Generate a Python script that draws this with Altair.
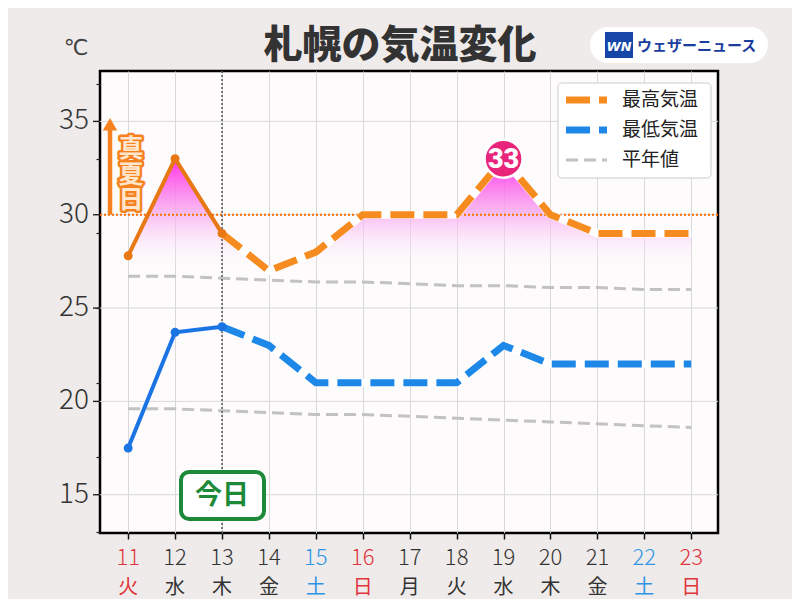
import altair as alt
import pandas as pd

# ---- data ----
days = [11, 12, 13, 14, 15, 16, 17, 18, 19, 20, 21, 22, 23]
weekdays = ["火", "水", "木", "金", "土", "日", "月", "火", "水", "木", "金", "土", "日"]
holidays = [11]
max_temp = [27.8, 33, 29, 27, 28, 30, 30, 30, 33, 30, 29, 29, 29]
min_temp = [17.5, 23.7, 24, 23, 21, 21, 21, 21, 23, 22, 22, 22, 22]
normal_max = [26.7, 26.7, 26.6, 26.5, 26.4, 26.4, 26.3, 26.2, 26.2, 26.1, 26.1, 26.0, 26.0]
normal_min = [19.6, 19.6, 19.5, 19.4, 19.3, 19.3, 19.2, 19.1, 19.0, 18.9, 18.8, 18.7, 18.6]
y_ticks = list(range(13, 38))
y_labels = [15, 20, 25, 30, 35]
today = 13
peak_day = 19
peak_value = 33
manatsubi = 30

W, H = 618, 462
FONT = "Noto Sans CJK JP"
ORANGE_OBS = "#e87814"
ORANGE_FC = "#f68b1f"
BLUE_OBS = "#1b74e4"
BLUE_FC = "#1e88e8"
GRAY = "#c2c2c2"

df = pd.DataFrame({
    "day": days, "wd": weekdays, "max": max_temp, "min": min_temp,
    "nmax": normal_max, "nmin": normal_min,
})
df["obs"] = df["day"] <= today
df["fc"] = df["day"] >= today


def label_color(d, w):
    if d in holidays or w == "日":
        return "#e0343a"
    if w == "土":
        return "#2e95e6"
    return "#333333"


df["lc"] = [label_color(d, w) for d, w in zip(days, weekdays)]
df["base"] = 27.0

xs = alt.Scale(domain=[10.4, 23.57], nice=False, zero=False)
ys = alt.Scale(domain=[12.95, 37.7], nice=False, zero=False)

X = alt.X("day:Q", scale=xs, title=None,
          axis=alt.Axis(values=days, labels=False, domain=False, tickSize=6,
                        tickColor="#111", tickWidth=1.5, gridColor="#d9d9d9", gridWidth=1))

base = alt.Chart(df)

# minor ticks axis (no labels, no grid)
yaxis = alt.Axis(
    values=y_ticks, labels=False, grid=False,
    domain=False, tickColor="#222", tickWidth=1.2, tickSize=4,
)

gradient = alt.Gradient(
    gradient="linear",
    stops=[
        alt.GradientStop(color="rgba(255,40,230,0.95)", offset=0),
        alt.GradientStop(color="rgba(248,170,240,0.75)", offset=0.5),
        alt.GradientStop(color="rgba(252,230,250,0.25)", offset=0.85),
        alt.GradientStop(color="rgba(255,255,255,0)", offset=1),
    ],
    x1=0, x2=0, y1=0, y2=1,
)

area = base.mark_area(fill=gradient, line=False).encode(
    x=X,
    y=alt.Y("max:Q", scale=ys, title=None, axis=yaxis),
    y2="base:Q",
)

# major ticks / labels / grid drawn from the y scale
ylab_df = pd.DataFrame({"v": y_labels})
y_grid = alt.Chart(ylab_df).mark_rule(color="#d9d9d9", strokeWidth=1).encode(
    y=alt.Y("v:Q", scale=ys))
y_major = alt.Chart(ylab_df).mark_rule(color="#222", strokeWidth=1.4).encode(
    y=alt.Y("v:Q", scale=ys), x=alt.value(-7), x2=alt.value(0))
y_text = alt.Chart(ylab_df).mark_text(font=FONT, fontSize=28, fontWeight=300, color="#333",
                                      align="right", baseline="middle").encode(
    y=alt.Y("v:Q", scale=ys), x=alt.value(-11), text="v:N")

nmax_line = base.mark_line(color=GRAY, strokeWidth=3, strokeDash=[12, 6]).encode(
    x=alt.X("day:Q", scale=xs), y=alt.Y("nmax:Q", scale=ys))
nmin_line = base.mark_line(color=GRAY, strokeWidth=3, strokeDash=[12, 6]).encode(
    x=alt.X("day:Q", scale=xs), y=alt.Y("nmin:Q", scale=ys))

hot_rule = alt.Chart(pd.DataFrame({"v": [manatsubi]})).mark_rule(
    color="#ff6a00", strokeWidth=2, strokeDash=[2, 2]).encode(y=alt.Y("v:Q", scale=ys))
today_rule = alt.Chart(pd.DataFrame({"d": [today]})).mark_rule(
    color="#555", strokeWidth=1.5, strokeDash=[2, 2]).encode(x=alt.X("d:Q", scale=xs))

fc = base.transform_filter("datum.fc")
obs = base.transform_filter("datum.obs")

max_under = fc.mark_line(color="white", strokeWidth=8).encode(
    x=alt.X("day:Q", scale=xs), y=alt.Y("max:Q", scale=ys))
min_under = fc.mark_line(color="white", strokeWidth=8).encode(
    x=alt.X("day:Q", scale=xs), y=alt.Y("min:Q", scale=ys))
max_fc = fc.mark_line(color=ORANGE_FC, strokeWidth=7, strokeDash=[24, 9]).encode(
    x=alt.X("day:Q", scale=xs), y=alt.Y("max:Q", scale=ys))
min_fc = fc.mark_line(color=BLUE_FC, strokeWidth=7, strokeDash=[24, 9]).encode(
    x=alt.X("day:Q", scale=xs), y=alt.Y("min:Q", scale=ys))
max_obs = obs.mark_line(color=ORANGE_OBS, strokeWidth=4, point=alt.OverlayMarkDef(
    filled=True, size=80, color=ORANGE_OBS)).encode(
    x=alt.X("day:Q", scale=xs), y=alt.Y("max:Q", scale=ys))
min_obs = obs.mark_line(color=BLUE_OBS, strokeWidth=4, point=alt.OverlayMarkDef(
    filled=True, size=80, color=BLUE_OBS)).encode(
    x=alt.X("day:Q", scale=xs), y=alt.Y("min:Q", scale=ys))

peak_df = pd.DataFrame({"d": [peak_day], "v": [peak_value], "t": [str(peak_value)]})
badge = alt.Chart(peak_df).mark_circle(size=1450, color="#e8257a", opacity=1,
                                         stroke="white", strokeWidth=2.5).encode(
    x=alt.X("d:Q", scale=xs), y=alt.Y("v:Q", scale=ys))
badge_txt = alt.Chart(peak_df).mark_text(font="Roboto", fontSize=27, fontWeight=900,
                                           color="white", baseline="middle", dy=1).encode(
    x=alt.X("d:Q", scale=xs), y=alt.Y("v:Q", scale=ys), text="t:N")

# x labels (two rows)
xlab_num = base.mark_text(font=FONT, fontSize=22, fontWeight=300, baseline="middle").encode(
    x=alt.X("day:Q", scale=xs), y=alt.value(H + 25), text="day:N",
    color=alt.Color("lc:N", scale=None))
xlab_wd = base.mark_text(font=FONT, fontSize=20, baseline="middle").encode(
    x=alt.X("day:Q", scale=xs), y=alt.value(H + 55), text="wd:N",
    color=alt.Color("lc:N", scale=None))

one = pd.DataFrame({"a": [0]})

# 真夏日 annotation
arrow_shaft = alt.Chart(pd.DataFrame({"a": [manatsubi], "b": [34.6]})).mark_rule(
    color="#f5821f", strokeWidth=4.5).encode(
    x=alt.value(10), y=alt.Y("a:Q", scale=ys), y2="b:Q")
arrow_head = alt.Chart(pd.DataFrame({"a": [34.85]})).mark_point(
    shape="triangle-up", filled=True, size=210, color="#f5821f", opacity=1).encode(
    x=alt.value(10), y=alt.Y("a:Q", scale=ys))
mn_stroke = alt.Chart(one).mark_text(
    text=["真", "夏", "日"], lineHeight=25.5, font=FONT, fontSize=25, fontWeight="bold",
    stroke="#f5821f", strokeWidth=5, strokeJoin="round", fill="#f5821f", baseline="top").encode(
    x=alt.value(31), y=alt.value(66))
mn_fill = alt.Chart(one).mark_text(
    text=["真", "夏", "日"], lineHeight=25.5, font=FONT, fontSize=25, fontWeight="bold",
    fill="#ffe6cc", baseline="top").encode(x=alt.value(31), y=alt.value(66))

# 今日 box
kyo_box = alt.Chart(one).mark_rect(fill="white", stroke="#1d8a3a", strokeWidth=4,
                                    cornerRadius=8).encode(
    x=alt.value(81), x2=alt.value(164), y=alt.value(401), y2=alt.value(448))
kyo_txt = alt.Chart(one).mark_text(text="今日", font=FONT, fontSize=27, fontWeight="bold",
                                    color="#1d8a3a", baseline="middle").encode(
    x=alt.value(122), y=alt.value(425))

# legend
leg_box = alt.Chart(one).mark_rect(fill="white", stroke="#cccccc", strokeWidth=1,
                                    cornerRadius=4).encode(
    x=alt.value(458), x2=alt.value(611), y=alt.value(12), y2=alt.value(107))
legend_items = []
for yy, col, sw, dash, label in [
    (29, ORANGE_FC, 7, [24, 9], "最高気温"),
    (59, BLUE_FC, 7, [24, 9], "最低気温"),
    (89, GRAY, 3, [12, 6], "平年値"),
]:
    legend_items.append(alt.Chart(one).mark_rule(color=col, strokeWidth=sw, strokeDash=dash).encode(
        x=alt.value(466), x2=alt.value(507), y=alt.value(yy)))
    legend_items.append(alt.Chart(one).mark_text(text=label, font=FONT, fontSize=19,
                                                 color="#222", align="left",
                                                 baseline="middle").encode(
        x=alt.value(522), y=alt.value(yy)))

# title, unit, logo
title = alt.Chart(one).mark_text(text="札幌の気温変化", font=FONT, fontSize=39, fontWeight=900,
                                  color="#333", baseline="middle").encode(
    x=alt.value(300), y=alt.value(-25))
unit = alt.Chart(one).mark_text(text="℃", font="DejaVu Sans", fontSize=22, color="#444",
                                 baseline="middle").encode(
    x=alt.value(-24), y=alt.value(-23))
logo_box = alt.Chart(one).mark_rect(fill="white", cornerRadius=18).encode(
    x=alt.value(490), x2=alt.value(668), y=alt.value(-44), y2=alt.value(-8))
logo_sq = alt.Chart(one).mark_rect(fill="#1546a8").encode(
    x=alt.value(505), x2=alt.value(533), y=alt.value(-39), y2=alt.value(-13))
logo_wn = alt.Chart(one).mark_text(text="WN", font="DejaVu Sans", fontSize=13, fontWeight="bold",
                                    fontStyle="italic", color="white", baseline="middle").encode(
    x=alt.value(519), y=alt.value(-24))
logo_txt = alt.Chart(one).mark_text(text="ウェザーニュース", font=FONT, fontSize=15,
                                     fontWeight="bold", color="#1a3d9e", align="left",
                                     baseline="middle").encode(
    x=alt.value(537), y=alt.value(-25))

chart = alt.layer(
    area, y_grid, y_major, y_text, nmax_line, nmin_line, hot_rule, today_rule,
    max_under, min_under, max_fc, min_fc, max_obs, min_obs,
    badge, badge_txt, xlab_num, xlab_wd,
    arrow_shaft, arrow_head, mn_stroke, mn_fill, kyo_box, kyo_txt,
    leg_box, *legend_items, title, unit, logo_box, logo_sq, logo_wn, logo_txt,
).properties(
    width=W, height=H,
    autosize=alt.AutoSizeParams(type="none"),
    padding={"left": 92, "top": 63, "right": 74, "bottom": 66},
    background="#efebea",
).configure_view(
    fill="#fdfbfc", stroke="#000", strokeWidth=2.5,
).configure_axis(
    labelOverlap=False,
)

chart.save("out.html", embed_options={"renderer": "svg", "actions": False})
